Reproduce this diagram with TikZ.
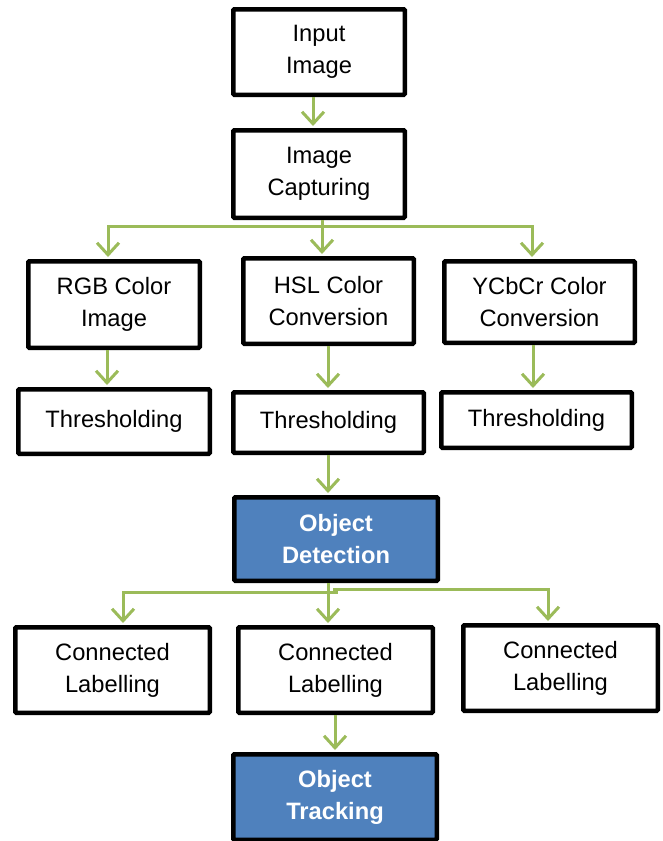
\documentclass[tikz,border=0pt]{standalone}
\usepackage{fontspec}
\setmainfont{Liberation Sans}
\usetikzlibrary{arrows.meta}
\definecolor{arrgreen}{HTML}{9BBB59}
\definecolor{boxblue}{HTML}{4F81BD}
\begin{document}
\begin{tikzpicture}[x=1pt,y=-1pt,
  box/.style={draw=black,line width=4.5pt,fill=white,inner sep=0pt,align=center,rounded corners=1pt,
    font=\fontsize{23.7}{32}\selectfont},
  bluebox/.style={box,fill=boxblue,text=white,font=\fontsize{23.7}{32}\selectfont\bfseries},
  arr/.style={draw=arrgreen,line width=3pt,-{Straight Barb[length=12pt,width=22pt,line width=3pt]},shorten >=2pt},
  ln/.style={draw=arrgreen,line width=3pt}]
\useasboundingbox (0,0) rectangle (663,841);
% boxes: centre, size = outer - 4.5
\node[box,minimum width=171.5pt,minimum height=85.5pt] (inp) at (319,52) {Input\\Image};
\node[box,minimum width=171.5pt,minimum height=87.5pt] (cap) at (319,174) {Image\\Capturing};
\node[box,minimum width=171.5pt,minimum height=86.5pt] (rgb) at (114,304.5) {RGB Color\\Image};
\node[box,minimum width=170.5pt,minimum height=85.5pt] (hsl) at (328.5,301) {HSL Color\\Conversion};
\node[box,minimum width=190.5pt,minimum height=81.5pt] (ycc) at (539.5,302) {YCbCr Color\\Conversion};
\node[box,minimum width=191.5pt,minimum height=64.5pt] (th1) at (114,421.5) {Thresholding};
\node[box,minimum width=190.5pt,minimum height=60.5pt] (th2) at (328.5,422.5) {Thresholding};
\node[box,minimum width=190.5pt,minimum height=55.5pt] (th3) at (536.5,420) {Thresholding};
\node[bluebox,minimum width=203.5pt,minimum height=83.5pt] (od) at (336,539) {Object\\Detection};
\node[box,minimum width=194.5pt,minimum height=85.5pt] (cl1) at (112.5,670) {Connected\\Labelling};
\node[box,minimum width=194.5pt,minimum height=85.5pt] (cl2) at (335.5,670) {Connected\\Labelling};
\node[box,minimum width=194.5pt,minimum height=85.5pt] (cl3) at (560.5,668) {Connected\\Labelling};
\node[bluebox,minimum width=203.5pt,minimum height=85.5pt] (ot) at (335,797) {Object\\Tracking};
% coordinates for branch points
\coordinate (b0) at (322,226);
\coordinate (bl) at (108,226);
\coordinate (br) at (532,226);
\coordinate (c0) at (328,590);
\coordinate (cl) at (123,592);
\coordinate (cr) at (548,589);
% connectors
\draw[arr] (inp.south -| 313,0) -- (cap.north -| 313,0);
\draw[ln] (cap.south -| b0) -- (b0);
\draw[ln,line cap=rect] (bl) -- (br);
\draw[arr] (bl) -- (rgb.north -| bl);
\draw[arr] (b0) -- (hsl.north -| b0);
\draw[arr] (br) -- (ycc.north -| br);
\draw[arr] (rgb.south -| 107,0) -- (th1.north -| 107,0);
\draw[arr] (hsl.south -| 328,0) -- (th2.north -| 328,0);
\draw[arr] (ycc.south -| 533,0) -- (th3.north -| 533,0);
\draw[arr] (th2.south -| 328,0) -- (od.north -| 328,0);
\draw[ln] (od.south -| c0) -- (c0);
\draw[ln,line cap=rect] (cl) -- (336,592);
\draw[ln,line cap=rect] (cr) -- (334,589);
\draw[arr] (cl) -- (cl1.north -| cl);
\draw[arr] (c0) -- (cl2.north -| c0);
\draw[arr] (cr) -- (cl3.north -| cr);
\draw[arr] (cl2.south -| 335,0) -- (ot.north -| 335,0);
\end{tikzpicture}
\end{document}
